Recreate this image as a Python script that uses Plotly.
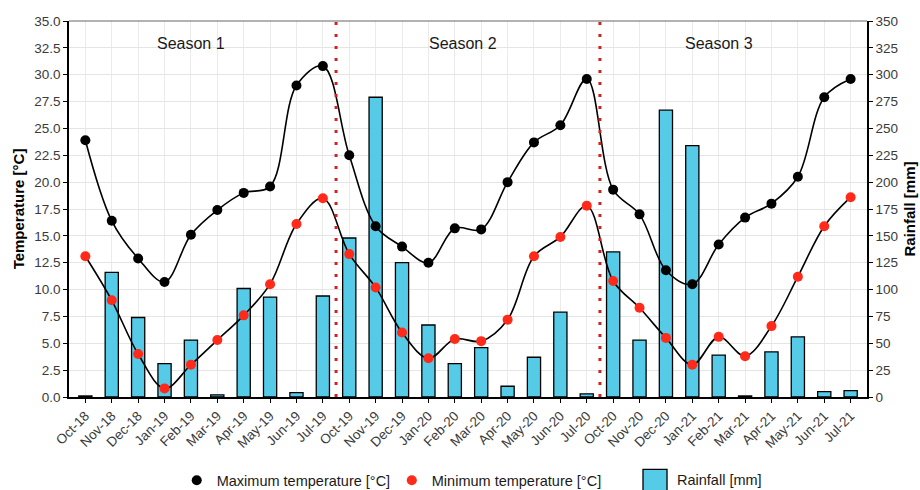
import plotly.graph_objects as go

months = ["Oct-18", "Nov-18", "Dec-18", "Jan-19", "Feb-19", "Mar-19", "Apr-19", "May-19", "Jun-19", "Jul-19",
          "Oct-19", "Nov-19", "Dec-19", "Jan-20", "Feb-20", "Mar-20", "Apr-20", "May-20", "Jun-20", "Jul-20",
          "Oct-20", "Nov-20", "Dec-20", "Jan-21", "Feb-21", "Mar-21", "Apr-21", "May-21", "Jun-21", "Jul-21"]

max_temp = [23.9, 16.4, 12.9, 10.7, 15.1, 17.4, 19.0, 19.6, 29.0, 30.8,
            22.5, 15.9, 14.0, 12.5, 15.7, 15.6, 20.0, 23.7, 25.3, 29.6,
            19.3, 17.0, 11.8, 10.5, 14.2, 16.7, 18.0, 20.5, 27.9, 29.6]

min_temp = [13.1, 9.0, 4.0, 0.8, 3.0, 5.3, 7.6, 10.5, 16.1, 18.5,
            13.3, 10.2, 6.0, 3.6, 5.4, 5.2, 7.2, 13.1, 14.9, 17.8,
            10.8, 8.3, 5.5, 3.0, 5.6, 3.8, 6.6, 11.2, 15.9, 18.6]

rainfall = [1, 116, 74, 31, 53, 2, 101, 93, 4, 94,
            148, 279, 125, 67, 31, 46, 10, 37, 79, 3,
            135, 53, 267, 234, 39, 1, 42, 56, 5, 6]

season_labels = ["Season 1", "Season 2", "Season 3"]
season_label_x = [4.0, 14.3, 24.0]
season_breaks = [9.5, 19.5]

FONT = "Liberation Sans, Arial, sans-serif"
BAR_COLOR = "#56CBE8"
RED = "#FF2A1A"

fig = go.Figure()

# rainfall bars on the primary (right-hand) axis so temperatures draw above them
fig.add_trace(go.Bar(
    x=months, y=rainfall, yaxis="y", width=0.5,
    marker=dict(color=BAR_COLOR, line=dict(color="black", width=1.3)),
    name="Rainfall [mm]", showlegend=False,
))

# smoothed temperature curves
for series in (max_temp, min_temp):
    fig.add_trace(go.Scatter(
        x=months, y=series, yaxis="y2", mode="lines",
        line=dict(color="black", width=1.6, shape="spline", smoothing=1.0),
        showlegend=False, hoverinfo="skip",
    ))

fig.add_trace(go.Scatter(
    x=months, y=max_temp, yaxis="y2", mode="markers",
    marker=dict(color="black", size=10),
    name="Maximum temperature [°C]", legend="legend",
))
fig.add_trace(go.Scatter(
    x=months, y=min_temp, yaxis="y2", mode="markers",
    marker=dict(color=RED, size=10),
    name="Minimum temperature [°C]", legend="legend2",
))

shapes = []
for xb in season_breaks:
    shapes.append(dict(type="line", xref="x", yref="paper", x0=xb, x1=xb, y0=0, y1=1,
                       line=dict(color="#D42020", width=3, dash="3px,9px"), layer="above"))
# top panel border
shapes.append(dict(type="line", xref="paper", yref="paper", x0=0, x1=1, y0=1, y1=1,
                   line=dict(color="#666666", width=1.2), layer="above"))
# rainfall legend key
shapes.append(dict(type="rect", xref="paper", yref="paper",
                   x0=0.7193, x1=0.7494, y0=-0.2561, y1=-0.1923,
                   fillcolor=BAR_COLOR, line=dict(color="black", width=1.3)))

annotations = [
    dict(x=sx, y=32.9, xref="x", yref="y2", text=s, showarrow=False,
         font=dict(family=FONT, size=16, color="#1a1a1a"))
    for s, sx in zip(season_labels, season_label_x)
]
annotations.append(dict(x=0.759, y=-0.2215, xref="paper", yref="paper", text="Rainfall [mm]",
                        showarrow=False, xanchor="left", yanchor="middle",
                        font=dict(family=FONT, size=14.5, color="#1a1a1a")))

tick_font = dict(family=FONT, size=13.5, color="#3A3A3A")
legend_common = dict(orientation="h", yanchor="middle", y=-0.2215, xanchor="left",
                     bgcolor="rgba(0,0,0,0)", font=dict(family=FONT, size=14.5, color="#1a1a1a"))

fig.update_layout(
    width=920, height=490,
    margin=dict(l=69, r=53, t=21, b=93, autoexpand=False),
    plot_bgcolor="white", paper_bgcolor="white",
    font=dict(family=FONT),
    bargap=0.5,
    xaxis=dict(
        type="category", range=[-0.62, 29.62], automargin=False,
        showgrid=True, gridcolor="#EBEBEB", gridwidth=1,
        showline=True, linecolor="black", linewidth=1.5,
        ticks="outside", ticklen=4, tickcolor="black", tickwidth=1.2,
        tickangle=-45, tickfont=tick_font,
    ),
    yaxis=dict(
        side="right", range=[0, 350], dtick=25, tick0=0, automargin=False,
        title=dict(text="<b>Rainfall [mm]</b>", font=dict(family=FONT, size=15, color="black"), standoff=8),
        showgrid=True, gridcolor="#E5E5E5", gridwidth=1.3, zeroline=False,
        showline=True, linecolor="black", linewidth=1.5,
        ticks="outside", ticklen=4, tickcolor="black", tickwidth=1.2,
        tickfont=tick_font,
    ),
    yaxis2=dict(
        overlaying="y", side="left", anchor="x", range=[0, 35], dtick=2.5, tick0=0,
        tickformat=".1f", automargin=False,
        title=dict(text="<b>Temperature [°C]</b>", font=dict(family=FONT, size=15, color="black"), standoff=6),
        showgrid=False, zeroline=False,
        showline=True, linecolor="black", linewidth=1.5,
        ticks="outside", ticklen=4, tickcolor="black", tickwidth=1.2,
        tickfont=tick_font,
    ),
    legend=dict(x=0.135, **legend_common),
    legend2=dict(x=0.4045, **legend_common),
    shapes=shapes,
    annotations=annotations,
)

fig.write_html("out.html")
